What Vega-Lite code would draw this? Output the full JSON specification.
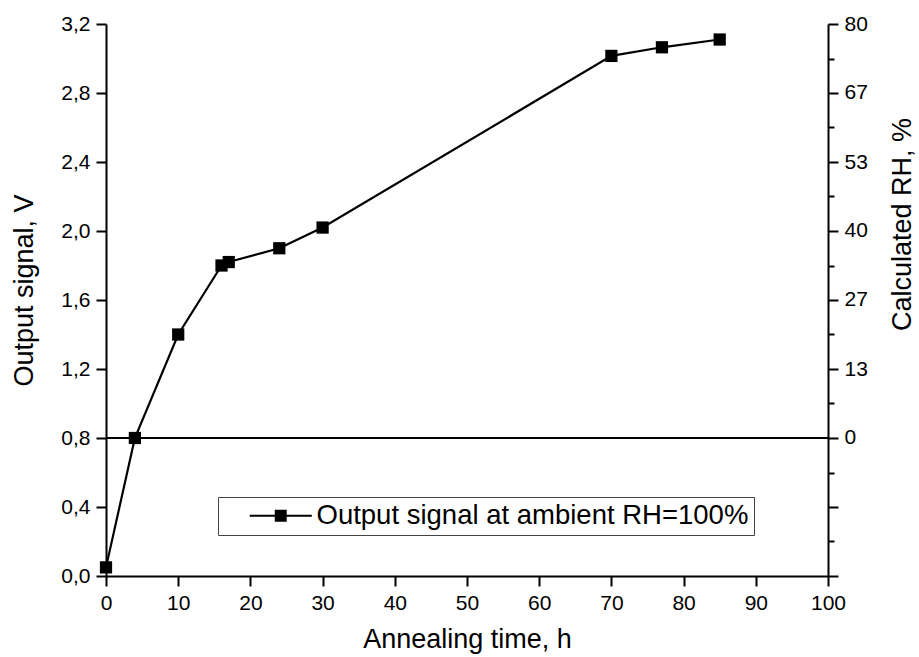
{
  "$schema": "https://vega.github.io/schema/vega-lite/v6.json",
  "autosize": "none",
  "width": 722,
  "height": 552,
  "padding": {"left": 106, "top": 24, "right": 91, "bottom": 81},
  "background": "white",
  "config": {
    "view": {"stroke": null},
    "font": "Liberation Sans",
    "axis": {
      "domainColor": "black", "domainWidth": 2, "tickColor": "black", "tickWidth": 2,
      "labelColor": "black", "titleColor": "black", "labelFont": "Liberation Sans",
      "titleFont": "Liberation Sans", "titleFontWeight": "normal", "labelFontSize": 21,
      "titleFontSize": 27, "grid": false
    }
  },
  "data": {
    "values": [
      {"t": 0, "v": 0.05, "series": "Output signal at ambient RH=100%"},
      {"t": 4, "v": 0.8, "series": "Output signal at ambient RH=100%"},
      {"t": 10, "v": 1.4, "series": "Output signal at ambient RH=100%"},
      {"t": 16, "v": 1.8, "series": "Output signal at ambient RH=100%"},
      {"t": 17, "v": 1.82, "series": "Output signal at ambient RH=100%"},
      {"t": 24, "v": 1.9, "series": "Output signal at ambient RH=100%"},
      {"t": 30, "v": 2.02, "series": "Output signal at ambient RH=100%"},
      {"t": 70, "v": 3.015, "series": "Output signal at ambient RH=100%"},
      {"t": 77, "v": 3.065, "series": "Output signal at ambient RH=100%"},
      {"t": 85, "v": 3.11, "series": "Output signal at ambient RH=100%"}
    ]
  },
  "layer": [
    {
      "layer": [
        {
          "mark": {"type": "rule", "color": "black", "strokeWidth": 1},
          "encoding": {"y": {"datum": 0.8, "type": "quantitative"}}
        },
        {
          "mark": {"type": "line", "strokeWidth": 2.2},
          "encoding": {
            "x": {"field": "t", "type": "quantitative",
              "scale": {"domain": [0, 100], "nice": false},
              "axis": {
                "orient": "bottom", "title": "Annealing time, h",
                "values": [0,5,10,15,20,25,30,35,40,45,50,55,60,65,70,75,80,85,90,95,100],
                "labelExpr": "datum.value % 10 == 0 ? datum.label : ''",
                "tickSize": {"condition": {"test": "datum.value % 10 == 0", "value": 10}, "value": 6},
                "labelPadding": 6, "titlePadding": 13, "labelFlush": false
              }},
            "y": {"field": "v", "type": "quantitative",
              "scale": {"domain": [0, 3.2], "nice": false},
              "axis": {
                "orient": "left", "title": "Output signal, V", "titleY": 266,
                "values": [0,0.2,0.4,0.6,0.8,1.0,1.2,1.4,1.6,1.8,2.0,2.2,2.4,2.6,2.8,3.0,3.2],
                "labelExpr": "abs(datum.value/0.4 - round(datum.value/0.4)) < 0.01 ? replace(format(datum.value, '.1f'), '.', ',') : ''",
                "tickSize": {"condition": {"test": "abs(datum.value/0.4 - round(datum.value/0.4)) < 0.01", "value": 10}, "value": 6},
                "labelPadding": 6, "titlePadding": 22, "labelFlush": false
              }},
            "color": {"field": "series", "type": "nominal",
              "scale": {"range": ["black"]},
              "legend": {
                "title": null, "orient": "none", "legendX": 112, "legendY": 473,
                "strokeColor": "#444", "padding": 5,
                "symbolType": "M-5.17,0H-0.83M0.83,0H5.17M-0.83,-0.83H0.83V0.83H-0.83Z",
                "symbolSize": 144, "symbolStrokeWidth": 2, "symbolFillColor": "black",
                "symbolStrokeColor": "black", "symbolOffset": 44, "labelOffset": 22,
                "labelFontSize": 27.5, "labelColor": "black", "labelFont": "Liberation Sans",
                "labelLimit": 700
              }}
          }
        },
        {
          "mark": {"type": "point", "shape": "square", "filled": true, "size": 150, "color": "black", "opacity": 1},
          "encoding": {
            "x": {"field": "t", "type": "quantitative"},
            "y": {"field": "v", "type": "quantitative"}
          }
        }
      ]
    },
    {
      "mark": {"type": "rule", "opacity": 0},
      "encoding": {
        "y": {"datum": 0, "type": "quantitative",
          "scale": {"domain": [-26.6667, 80], "nice": false, "zero": false},
          "axis": {
            "orient": "right", "title": "Calculated RH, %", "titleAngle": 270,
            "titleY": 200, "titleBaseline": "top",
            "values": [-26.6667, -20, -13.3333, -6.6667, 0, 6.6667, 13.3333, 20, 26.6667, 33.3333, 40, 46.6667, 53.3333, 60, 66.6667, 73.3333, 80],
            "labelExpr": "datum.value > -0.01 && abs((datum.value + 26.6667)/13.3333 - round((datum.value + 26.6667)/13.3333)) < 0.01 ? format(datum.value, '.0f') : ''",
            "tickSize": {"condition": {"test": "abs((datum.value + 26.6667)/13.3333 - round((datum.value + 26.6667)/13.3333)) < 0.01", "value": 10}, "value": 6},
            "labelPadding": 6, "titlePadding": 22, "labelFlush": false
          }}
      }
    }
  ],
  "resolve": {"scale": {"y": "independent"}}
}
